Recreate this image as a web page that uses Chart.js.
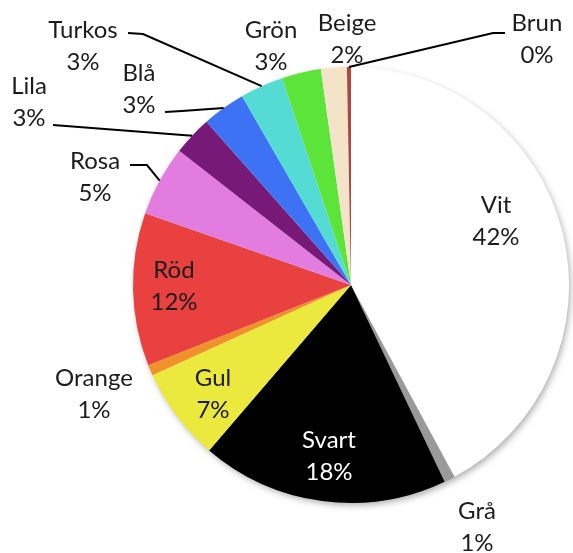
<!DOCTYPE html>
<html>
<head>
<meta charset="utf-8">
<script src="https://cdn.jsdelivr.net/npm/chart.js@4"></script>
<style>
  html, body { margin: 0; padding: 0; background: #fff; }
  #wrap { width: 573px; height: 553px; }
</style>
</head>
<body>
<div id="wrap"><canvas id="chart" width="573" height="553"></canvas></div>
<script>
const categories = ["Vit", "Grå", "Svart", "Gul", "Orange", "Röd", "Rosa", "Lila", "Blå", "Turkos", "Grön", "Beige", "Brun"];
const values = [42, 0.8, 18.3, 6.9, 0.8, 11.3, 5.2, 2.9, 3.2, 3.2, 2.9, 1.9, 0.3];
const pctLabels = ["42%", "1%", "18%", "7%", "1%", "12%", "5%", "3%", "3%", "3%", "3%", "2%", "0%"];
const colors = ["#ffffff", "#9a9a9a", "#000000", "#ebe83e", "#f0922c", "#e8413f", "#e27ddf", "#771a77", "#3e72f4", "#54dcd4", "#5ce43b", "#f3e3c8", "#b0463c"];

// where each label sits (text block centre) and, for outside labels, the leader line
const labelLayout = [
    { x: 496, y: 221 },
    { x: 477, y: 527 },
    { x: 329, y: 456, color: "#ffffff" },
    { x: 213, y: 394 },
    { x: 94, y: 394 },
    { x: 174, y: 286 },
    { x: 95, y: 177, line: [[147, 165], [130, 165]] },
    { x: 29, y: 102, line: [[53, 125]] },
    { x: 139, y: 89, line: [[182, 111], [165, 112]] },
    { x: 83, y: 46, line: [[143, 34], [128, 33]] },
    { x: 271, y: 46 },
    { x: 347, y: 39 },
    { x: 537, y: 39, line: [[493, 33], [505, 33]] }
];

const pieShadow = {
    id: 'pieShadow',
    beforeDatasetsDraw(chart) {
        const arc = chart.getDatasetMeta(0).data[0];
        if (!arc) return;
        const ctx = chart.ctx;
        ctx.save();
        ctx.shadowColor = 'rgba(0,0,0,0.35)';
        ctx.shadowBlur = 7;
        ctx.shadowOffsetX = 2;
        ctx.shadowOffsetY = 3;
        ctx.fillStyle = '#ffffff';
        ctx.beginPath();
        ctx.arc(arc.x, arc.y, arc.outerRadius - 1, 0, Math.PI * 2);
        ctx.fill();
        ctx.restore();
    }
};

const pieLabels = {
    id: 'pieLabels',
    afterDatasetsDraw(chart) {
        const ctx = chart.ctx;
        const arcs = chart.getDatasetMeta(0).data;
        ctx.save();
        ctx.font = '24px Lato';
        ctx.textAlign = 'center';
        ctx.textBaseline = 'middle';
        arcs.forEach((arc, i) => {
            const lay = labelLayout[i];
            if (lay.line) {
                const mid = (arc.startAngle + arc.endAngle) / 2;
                ctx.beginPath();
                ctx.moveTo(arc.x + Math.cos(mid) * arc.outerRadius, arc.y + Math.sin(mid) * arc.outerRadius);
                lay.line.forEach(p => ctx.lineTo(p[0], p[1]));
                ctx.strokeStyle = '#000';
                ctx.lineWidth = 2;
                ctx.stroke();
            }
            ctx.fillStyle = lay.color || '#1c1c1c';
            ctx.fillText(categories[i], lay.x, lay.y - 16);
            ctx.fillText(pctLabels[i], lay.x, lay.y + 16);
        });
        ctx.restore();
    }
};

const ctx = document.querySelector('#chart').getContext('2d');
const chart = new Chart(ctx, {
    type: 'pie',
    data: {
        labels: categories,
        datasets: [{
            data: values,
            backgroundColor: colors,
            borderWidth: 0,
            hoverOffset: 0
        }]
    },
    options: {
        responsive: false,
        animation: false,
        layout: {
            padding: { left: 133, right: 4, top: 67, bottom: 50 }
        },
        plugins: {
            legend: { display: false },
            tooltip: { enabled: false }
        }
    },
    plugins: [pieShadow, pieLabels]
});
</script>
</body>
</html>
